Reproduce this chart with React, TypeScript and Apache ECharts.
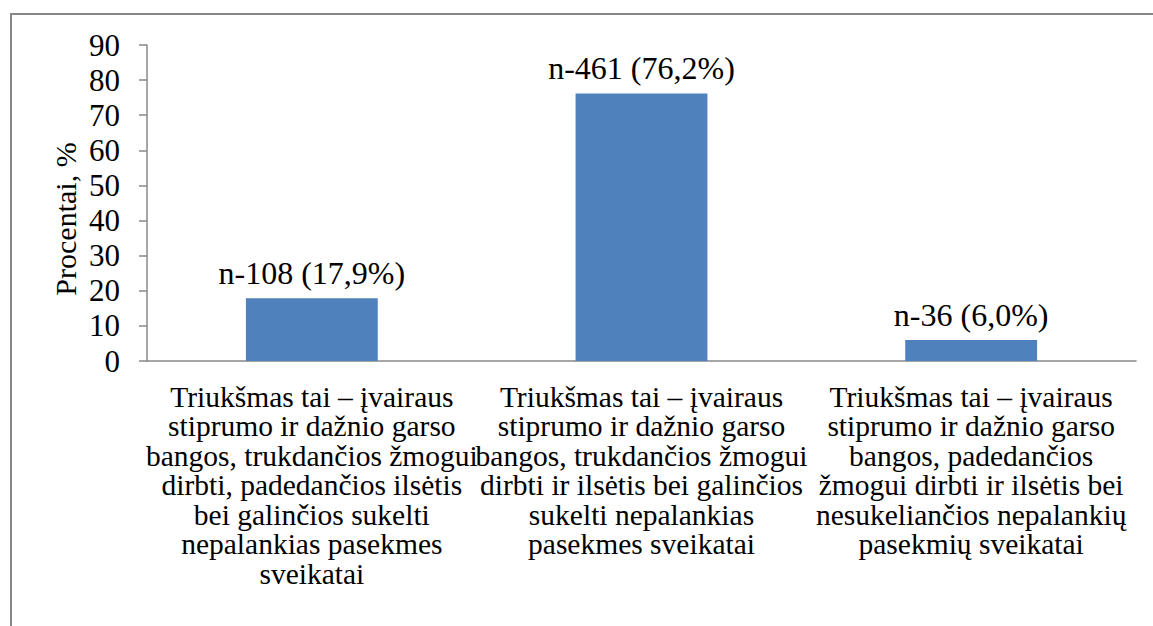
import React, { useEffect, useRef } from "react";
import * as echarts from "echarts";

const categories: string[] = [
  "Triukšmas tai – įvairaus\nstiprumo ir dažnio garso\nbangos, trukdančios žmogui\ndirbti, padedančios ilsėtis\nbei galinčios sukelti\nnepalankias pasekmes\nsveikatai",
  "Triukšmas tai – įvairaus\nstiprumo ir dažnio garso\nbangos, trukdančios žmogui\ndirbti ir ilsėtis bei galinčios\nsukelti nepalankias\npasekmes sveikatai",
  "Triukšmas tai – įvairaus\nstiprumo ir dažnio garso\nbangos, padedančios\nžmogui dirbti ir ilsėtis bei\nnesukeliančios nepalankių\npasekmių sveikatai",
];
const percentages: number[] = [17.9, 76.2, 6.0];
const counts: number[] = [108, 461, 36];
const yAxisName = "Procentai, %";

const FONT = "Liberation Serif";

export default function App() {
  const ref = useRef<HTMLDivElement>(null);
  useEffect(() => {
    if (!ref.current) return;
    const chart = echarts.init(ref.current, undefined, { renderer: "svg" });
    chart.setOption({
      animation: false,
      backgroundColor: "#ffffff",
      textStyle: { fontFamily: FONT },
      graphic: [
        {
          type: "rect",
          shape: { x: 11, y: 14, width: 1200, height: 700 },
          style: { fill: "none", stroke: "#878787", lineWidth: 2 },
          silent: true,
        },
        {
          type: "text",
          x: 65,
          y: 219,
          rotation: Math.PI / 2,
          silent: true,
          style: {
            text: yAxisName,
            fill: "#000000",
            font: `30px ${FONT}`,
            fontFamily: FONT,
            fontSize: 30,
            align: "center",
            verticalAlign: "middle",
          },
        },
      ],
      grid: { left: 147, right: 17, top: 45, bottom: 265, containLabel: false },
      xAxis: {
        type: "category",
        data: categories,
        axisLine: { show: true, lineStyle: { color: "#888888", width: 1.5 } },
        axisTick: { show: false },
        axisLabel: {
          interval: 0,
          margin: 21,
          color: "#000000",
          fontFamily: FONT,
          fontSize: 29.5,
          lineHeight: 29.5,
          align: "center",
        },
      },
      yAxis: {
        type: "value",
        min: 0,
        max: 90,
        interval: 10,
        axisLine: { show: true, lineStyle: { color: "#888888", width: 1.5 } },
        axisTick: { show: true, inside: false, length: 8, lineStyle: { color: "#888888", width: 1.5 } },
        splitLine: { show: false },
        axisLabel: { margin: 27, color: "#000000", fontFamily: FONT, fontSize: 31 },
      },
      series: [
        {
          type: "bar",
          data: percentages,
          barWidth: "40%",
          itemStyle: { color: "#4F81BD" },
          label: {
            show: true,
            position: "top",
            distance: 9,
            color: "#000000",
            fontFamily: FONT,
            fontSize: 32,
            formatter: (p: any) =>
              `n-${counts[p.dataIndex]} (${percentages[p.dataIndex].toFixed(1).replace(".", ",")}%)`,
          },
        },
      ],
    });
    return () => chart.dispose();
  }, []);
  return (
    <div
      ref={ref}
      style={{ position: "fixed", left: 0, top: 0, width: 1153, height: 626 }}
    />
  );
}
